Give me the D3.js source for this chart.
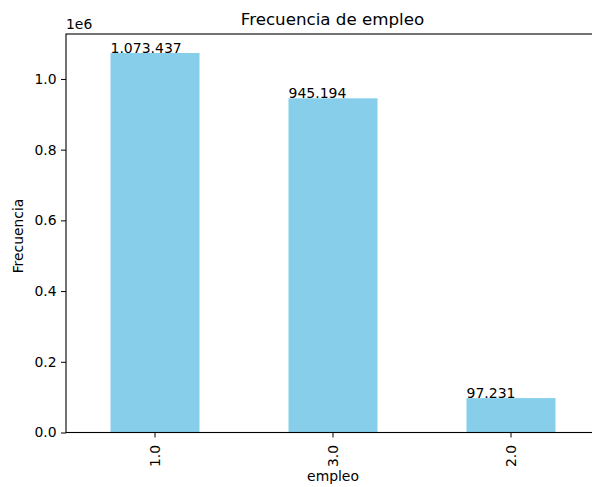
<!DOCTYPE html>
<html><head><meta charset="utf-8">
<script src="https://cdn.jsdelivr.net/npm/d3@7"></script>
<style>body{margin:0;background:#fff}svg{display:block;font-family:"DejaVu Sans",sans-serif}</style>
</head><body>
<svg id="c" width="592" height="487"></svg>
<script>
const categories = ["1.0", "3.0", "2.0"];
const values = [1073437, 945194, 97231];
const valueLabels = ["1.073.437", "945.194", "97.231"];
const yTicks = [0, 0.2e6, 0.4e6, 0.6e6, 0.8e6, 1.0e6];

const svg = d3.select("#c");
const m = {left: 66, top: 34, right: 600, bottom: 432.5};
const x = d3.scaleBand().domain(categories).range([m.left, m.right]).padding(0.5).paddingOuter(0.25);
const y = d3.scaleLinear().domain([0, d3.max(values) * 1.05]).range([m.bottom, m.top]);

svg.append("g").selectAll("rect").data(values).join("rect")
  .attr("x", (d, i) => x(categories[i]))
  .attr("y", d => y(d))
  .attr("width", x.bandwidth())
  .attr("height", d => m.bottom - y(d))
  .attr("fill", "#87ceeb");

svg.append("g").selectAll("text").data(values).join("text")
  .attr("x", (d, i) => x(categories[i]))
  .attr("y", d => y(d))
  .attr("font-size", 14).attr("fill", "#000")
  .text((d, i) => valueLabels[i]);

const ya = svg.append("g").attr("transform", `translate(${m.left},0)`)
  .call(d3.axisLeft(y).tickValues(yTicks).tickFormat(d => (d / 1e6).toFixed(1)).tickSize(5).tickPadding(4.5));
ya.select(".domain").remove();
ya.selectAll("text").attr("font-size", 13.9).attr("font-family", "DejaVu Sans").attr("fill", "#000");

const xa = svg.append("g").attr("transform", `translate(0,${m.bottom})`)
  .call(d3.axisBottom(x).tickSize(5).tickPadding(4));
xa.select(".domain").remove();
xa.selectAll("text").attr("font-size", 13.9).attr("font-family", "DejaVu Sans").attr("fill", "#000")
  .attr("transform", "rotate(-90)").attr("text-anchor", "end").attr("dy", "0.35em")
  .attr("x", -12.5).attr("y", 0);

// spines
svg.append("rect").attr("x", m.left).attr("y", m.top).attr("width", m.right - m.left).attr("height", m.bottom - m.top)
  .attr("fill", "none").attr("stroke", "#000").attr("stroke-width", 1.1);

svg.append("text").attr("x", 332.5).attr("y", 24.5).attr("text-anchor", "middle").attr("font-size", 16.7).text("Frecuencia de empleo");
svg.append("text").attr("x", 66).attr("y", 29).attr("font-size", 13.9).text("1e6");
svg.append("text").attr("transform", "translate(23,236) rotate(-90)").attr("text-anchor", "middle").attr("font-size", 13.9).text("Frecuencia");
svg.append("text").attr("x", 333).attr("y", 481).attr("text-anchor", "middle").attr("font-size", 13.9).text("empleo");
</script>
</body></html>
